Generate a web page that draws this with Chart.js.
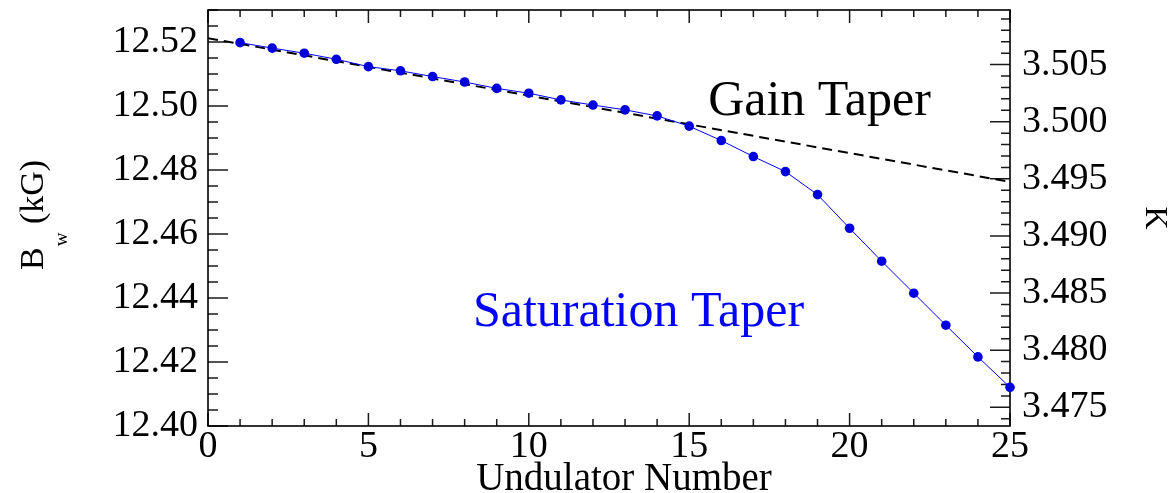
<!DOCTYPE html>
<html>
<head>
<meta charset="utf-8">
<script src="https://cdn.jsdelivr.net/npm/chart.js@4/dist/chart.umd.min.js"></script>
<style>
  html, body { margin: 0; padding: 0; background: #ffffff; }
  #wrap { width: 1170px; height: 493px; position: relative; }
</style>
</head>
<body>
<div id="wrap"><canvas id="c"></canvas></div>
<script>
// ---------------- data ----------------
const undulatorNumber = [1,2,3,4,5,6,7,8,9,10,11,12,13,14,15,16,17,18,19,20,21,22,23,24,25];
const bwSaturationTaper = [12.5198,12.5181,12.5165,12.5146,12.5123,12.5110,12.5092,12.5075,12.5055,12.5040,
                           12.5019,12.5003,12.4988,12.4969,12.4937,12.4892,12.4842,12.4795,12.4723,12.4618,
                           12.4515,12.4415,12.4315,12.4216,12.4121];
const gainTaperX  = [0, 25];
const gainTaperBw = [12.5212, 12.4763];

const xTickLabels  = [0, 5, 10, 15, 20, 25];
const bwTickLabels = [12.40, 12.42, 12.44, 12.46, 12.48, 12.50, 12.52];
const kTickLabels  = [3.475, 3.480, 3.485, 3.490, 3.495, 3.500, 3.505];

const xRange  = [0, 25];
const bwRange = [12.40, 12.53];
const kPerBw  = 0.28011;          // K = kPerBw * Bw (right axis)

const annotationTexts = [
  { text: 'Gain Taper',       x: 15.59, y: 12.4972, color: '#000000' },
  { text: 'Saturation Taper', x: 8.26,  y: 12.4313, color: '#0000ff' }
];
const xAxisTitle = 'Undulator Number';

// ---------------- plugins ----------------
const SERIF = '"Liberation Serif", "Times New Roman", Times, serif';

const frameTicks = {
  id: 'frameTicks',
  beforeDatasetsDraw(chart) {
    const { ctx, chartArea: a, scales } = chart;
    const xs = scales.x, ys = scales.y, ks = scales.y2;
    ctx.save();
    ctx.strokeStyle = '#1a1a1a';
    ctx.lineWidth = 1.5;
    ctx.beginPath();
    for (let i = xRange[0]; i <= xRange[1]; i++) {
      const px = xs.getPixelForValue(i);
      const len = (i % 5 === 0) ? 13 : 7;
      ctx.moveTo(px, a.bottom); ctx.lineTo(px, a.bottom - len);
      ctx.moveTo(px, a.top);    ctx.lineTo(px, a.top + len);
    }
    const nB = Math.round((bwRange[1] - bwRange[0]) / 0.005);
    for (let i = 0; i <= nB; i++) {
      const py = ys.getPixelForValue(bwRange[0] + i * 0.005);
      const len = (i % 4 === 0) ? 20 : 10;
      ctx.moveTo(a.left, py); ctx.lineTo(a.left + len, py);
    }
    const k0 = Math.ceil(ks.min / 0.001 - 1e-6), k1 = Math.floor(ks.max / 0.001 + 1e-6);
    for (let k = k0; k <= k1; k++) {
      const py = ks.getPixelForValue(k * 0.001);
      const len = (k % 5 === 0) ? 20 : 9;
      ctx.moveTo(a.right, py); ctx.lineTo(a.right - len, py);
    }
    ctx.stroke();
    ctx.strokeStyle = '#000000';
    ctx.lineWidth = 1.6;
    ctx.strokeRect(a.left, a.top, a.right - a.left, a.bottom - a.top);
    ctx.restore();
  }
};

const textLabels = {
  id: 'textLabels',
  afterDatasetsDraw(chart) {
    const { ctx, scales } = chart;
    ctx.save();
    ctx.font = '50px ' + SERIF;
    ctx.textAlign = 'left';
    ctx.textBaseline = 'alphabetic';
    annotationTexts.forEach(t => {
      ctx.fillStyle = t.color;
      ctx.fillText(t.text, scales.x.getPixelForValue(t.x), scales.y.getPixelForValue(t.y));
    });
    ctx.restore();
  },
  afterDraw(chart) {
    const { ctx, chartArea: a } = chart;
    // bottom axis title (sits slightly right of centre in the original)
    ctx.save();
    ctx.fillStyle = '#000000';
    ctx.font = '39px ' + SERIF;
    ctx.textAlign = 'center';
    ctx.textBaseline = 'alphabetic';
    ctx.fillText(xAxisTitle, (a.left + a.right) / 2 + 15, 490);
    ctx.restore();
    // left axis title: B with subscript w, then (kG)
    ctx.save();
    ctx.translate(43, 270);
    ctx.rotate(-Math.PI / 2);
    ctx.fillStyle = '#000000';
    ctx.textBaseline = 'alphabetic';
    ctx.textAlign = 'left';
    let pos = 0;
    ctx.font = '34px ' + SERIF;
    ctx.fillText('B', pos, 0);
    pos += ctx.measureText('B').width + 1;
    ctx.font = '19px ' + SERIF;
    ctx.fillText('w', pos, 24);
    pos += ctx.measureText('w').width;
    ctx.font = '34px ' + SERIF;
    ctx.fillText(' (kG)', pos, 0);
    ctx.restore();
  }
};

// ---------------- chart ----------------
const tickFont = { family: SERIF, size: 38, lineHeight: 1.1 };

new Chart(document.getElementById('c'), {
  type: 'line',
  data: {
    datasets: [
      {
        label: 'Saturation Taper',
        data: undulatorNumber.map((u, i) => ({ x: u, y: bwSaturationTaper[i] })),
        borderColor: '#0000ff',
        borderWidth: 1,
        pointRadius: 4.8,
        pointBackgroundColor: '#0000dd',
        pointBorderWidth: 0,
        fill: false,
        tension: 0,
        clip: false,
        order: 0,
        yAxisID: 'y'
      },
      {
        label: 'Gain Taper',
        data: gainTaperX.map((u, i) => ({ x: u, y: gainTaperBw[i] })),
        borderColor: '#000000',
        borderWidth: 2,
        borderDash: [10, 6],
        pointRadius: 0,
        fill: false,
        tension: 0,
        order: 1,
        yAxisID: 'y'
      }
    ]
  },
  options: {
    responsive: true,
    maintainAspectRatio: false,
    animation: false,
    layout: { padding: { top: 10, left: 0, right: 0, bottom: 0 } },
    plugins: { legend: { display: false }, tooltip: { enabled: false } },
    scales: {
      x: {
        type: 'linear',
        position: 'bottom',
        min: xRange[0], max: xRange[1],
        grid: { display: false, drawTicks: false },
        border: { display: false },
        afterBuildTicks: s => { s.ticks = xTickLabels.map(v => ({ value: v })); },
        ticks: { font: tickFont, color: '#000', padding: 0, maxRotation: 0, autoSkip: false,
                 callback: v => String(v) },
        afterFit: s => { s.height = 67; s.paddingLeft = 0; s.paddingRight = 0; }
      },
      y: {
        type: 'linear',
        position: 'left',
        min: bwRange[0], max: bwRange[1],
        grid: { display: false, drawTicks: false },
        border: { display: false },
        afterBuildTicks: s => { s.ticks = bwTickLabels.map(v => ({ value: v })); },
        ticks: { font: tickFont, color: '#000', padding: 10, autoSkip: false,
                 callback: v => Number(v).toFixed(2) },
        afterFit: s => { s.width = 208; s.paddingTop = 0; s.paddingBottom = 0; }
      },
      y2: {
        type: 'linear',
        position: 'right',
        min: bwRange[0] * kPerBw, max: bwRange[1] * kPerBw,
        grid: { display: false, drawTicks: false },
        border: { display: false },
        afterBuildTicks: s => { s.ticks = kTickLabels.map(v => ({ value: v })); },
        ticks: { font: tickFont, color: '#000', padding: 12, autoSkip: false,
                 callback: v => Number(v).toFixed(3) },
        title: { display: true, text: 'K', color: '#000',
                 font: { family: SERIF, size: 32, lineHeight: 1 }, padding: 0 },
        afterFit: s => { s.width = 160; s.paddingTop = 0; s.paddingBottom = 0; }
      }
    }
  },
  plugins: [frameTicks, textLabels]
});
</script>
</body>
</html>
